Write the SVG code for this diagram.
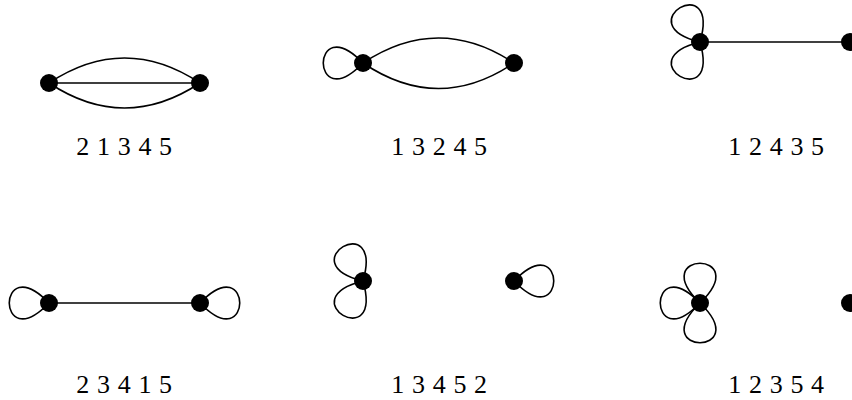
<svg xmlns="http://www.w3.org/2000/svg" width="852" height="400" viewBox="0 0 852 400">
<style>
.e{fill:none;stroke:#000;stroke-width:1.6}
.n{fill:#000}
.t{font-family:"Liberation Serif","Times New Roman",serif;font-size:26px;fill:#000;text-anchor:middle;letter-spacing:0.6px}
</style>
<defs>
<path id="loop" d="M0,0 C53,-55 53,55 0,0"/>
</defs>
<rect width="852" height="400" fill="#fff"/>
<g id="connectors">
<!-- graph 1 -->
<path class="e" d="M49,83 Q124.5,33 200,83 Q124.5,133 49,83 M49,83 L200,83"/>
<!-- graph 2 -->
<path class="e" d="M363,63 Q438.5,13 514,63 Q438.5,114 363,63"/>
<use href="#loop" class="e" transform="translate(363,63) rotate(180)"/>
<!-- graph 3 -->
<path class="e" d="M700,42 L850,42"/>
<use href="#loop" class="e" transform="translate(700,42) rotate(-120)"/>
<use href="#loop" class="e" transform="translate(700,42) rotate(120)"/>
<!-- graph 4 -->
<path class="e" d="M49,303 L200,303"/>
<use href="#loop" class="e" transform="translate(49,303) rotate(180)"/>
<use href="#loop" class="e" transform="translate(200,303)"/>
<!-- graph 5 -->
<use href="#loop" class="e" transform="translate(363,281) rotate(-120)"/>
<use href="#loop" class="e" transform="translate(363,281) rotate(120)"/>
<use href="#loop" class="e" transform="translate(514,281)"/>
<!-- graph 6 -->
<use href="#loop" class="e" transform="translate(700,303) rotate(-90)"/>
<use href="#loop" class="e" transform="translate(700,303) rotate(180)"/>
<use href="#loop" class="e" transform="translate(700,303) rotate(90)"/>
</g>
<g id="g1n1"><circle class="n" cx="49" cy="83" r="9"/></g>
<g id="g1n2"><circle class="n" cx="200" cy="83" r="9"/></g>
<g id="g2n1"><circle class="n" cx="363" cy="63" r="9"/></g>
<g id="g2n2"><circle class="n" cx="514" cy="63" r="9"/></g>
<g id="g3n1"><circle class="n" cx="700" cy="42" r="9"/></g>
<g id="g3n2"><circle class="n" cx="850" cy="42" r="9"/></g>
<g id="g4n1"><circle class="n" cx="49" cy="303" r="9"/></g>
<g id="g4n2"><circle class="n" cx="200" cy="303" r="9"/></g>
<g id="g5n1"><circle class="n" cx="363" cy="281" r="9"/></g>
<g id="g5n2"><circle class="n" cx="514" cy="281" r="9"/></g>
<g id="g6n1"><circle class="n" cx="700" cy="303" r="9"/></g>
<g id="g6n2"><circle class="n" cx="850" cy="303" r="9"/></g>
<g id="labels">
<text class="t" x="124.5" y="155">2 1 3 4 5</text>
<text class="t" x="439.5" y="155">1 3 2 4 5</text>
<text class="t" x="776.5" y="155">1 2 4 3 5</text>
<text class="t" x="124.5" y="393">2 3 4 1 5</text>
<text class="t" x="439.5" y="393">1 3 4 5 2</text>
<text class="t" x="776.5" y="393">1 2 3 5 4</text>
</g>
</svg>
